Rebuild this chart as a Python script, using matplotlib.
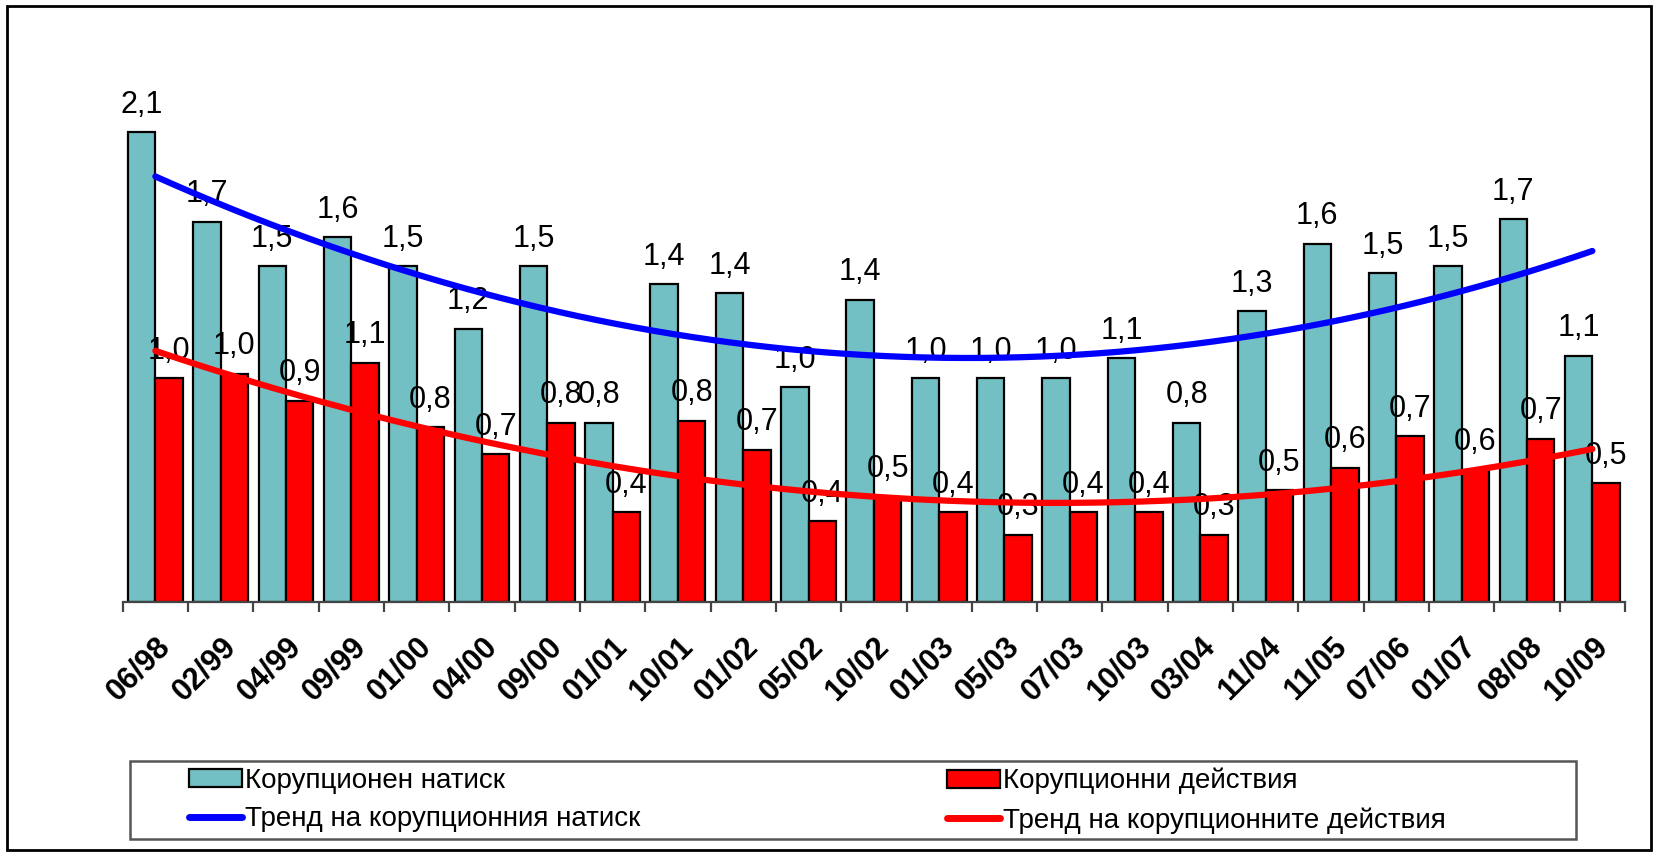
import numpy as np
import matplotlib.pyplot as plt
from matplotlib.patches import Rectangle
from matplotlib.lines import Line2D
from matplotlib.patches import Patch

plt.rcParams['font.family'] = ['Liberation Sans', 'DejaVu Sans']

# Data
periods = ['06/98', '02/99', '04/99', '09/99', '01/00', '04/00', '09/00', '01/01',
           '10/01', '01/02', '05/02', '10/02', '01/03', '05/03', '07/03', '10/03',
           '03/04', '11/04', '11/05', '07/06', '01/07', '08/08', '10/09']
pressure = [2.10, 1.70, 1.50, 1.63, 1.50, 1.22, 1.50, 0.80, 1.42, 1.38, 0.96, 1.35,
            1.00, 1.00, 1.00, 1.09, 0.80, 1.30, 1.60, 1.47, 1.50, 1.71, 1.10]
actions = [1.00, 1.02, 0.90, 1.07, 0.78, 0.66, 0.80, 0.40, 0.81, 0.68, 0.36, 0.47,
           0.40, 0.30, 0.40, 0.40, 0.30, 0.50, 0.60, 0.74, 0.59, 0.73, 0.53]

names = ['Корупционен натиск', 'Корупционни действия',
         'Тренд на корупционния натиск', 'Тренд на корупционните действия']

W, H = 1663, 857
fig = plt.figure(figsize=(W / 100, H / 100), dpi=100)


def px(x0, y0, x1, y1):
    # pixel box (top-left origin) -> figure fraction rect
    return [x0 / W, 1 - y1 / H, (x1 - x0) / W, (y1 - y0) / H]


ax = fig.add_axes(px(122.7, 42.5, 1625, 602))
x = np.arange(len(periods))
teal = '#72BFC4'
bw = 0.42

ax.bar(x - bw / 2, pressure, width=bw, color=teal, edgecolor='black', linewidth=1.6, zorder=2)
ax.bar(x + bw / 2, actions, width=bw, color='#FF0000', edgecolor='black', linewidth=1.6, zorder=2)

# polynomial trend lines (order 2), as in the source spreadsheet
xs = np.linspace(x[0], x[-1], 300)
cp = np.polyfit(x, pressure, 2)
ca = np.polyfit(x, actions, 2)
ax.plot(xs, np.polyval(cp, xs), color='#0000FF', lw=4.5, solid_capstyle='round', zorder=4)
ax.plot(xs, np.polyval(ca, xs), color='#FF0000', lw=4.5, solid_capstyle='round', zorder=4)

for xi, v in zip(x, pressure):
    ax.annotate(f'{v:.1f}'.replace('.', ','), (xi - bw / 2, v), xytext=(0, 9),
                textcoords='offset points', ha='center', va='bottom', fontsize=22, zorder=3)
for xi, v in zip(x, actions):
    ax.annotate(f'{v:.1f}'.replace('.', ','), (xi + bw / 2, v), xytext=(0, 9),
                textcoords='offset points', ha='center', va='bottom', fontsize=22, zorder=3)

ax.set_xlim(-0.5, len(periods) - 0.5)
ax.set_ylim(0, 2.5)
for s in ['left', 'top', 'right']:
    ax.spines[s].set_visible(False)
ax.spines['bottom'].set_color('#444444')
ax.spines['bottom'].set_linewidth(1.6)
ax.set_yticks([])
ax.set_xticks(x)
ax.set_xticklabels(periods, rotation=45, ha='right', va='top', rotation_mode='anchor',
                   fontsize=22, fontweight='bold')
ax.set_xticks(np.arange(len(periods) + 1) - 0.5, minor=True)
ax.tick_params(axis='x', which='major', length=0, pad=21)
ax.tick_params(axis='x', which='minor', length=7, width=1.6, color='#444444', direction='out')
ax.patch.set_alpha(0)

# outer border and legend frame
fig.patches.append(Rectangle((7 / W, 1 - 850 / H), (1651 - 7) / W, (850 - 6) / H,
                             transform=fig.transFigure, fill=False, lw=2, ec='black'))
fig.patches.append(Rectangle((130 / W, 1 - 838.5 / H), (1576 - 130) / W, (838.5 - 760.5) / H,
                             transform=fig.transFigure, fill=False, lw=1.8, ec='#555555'))

h_teal = Patch(facecolor=teal, edgecolor='black', linewidth=1.6)
h_red = Patch(facecolor='#FF0000', edgecolor='black', linewidth=1.6)
h_blue = Line2D([], [], color='#0000FF', lw=5, solid_capstyle='round')
h_redl = Line2D([], [], color='#FF0000', lw=5, solid_capstyle='round')

leg_kw = dict(loc='upper left', frameon=False, fontsize=20, borderpad=0, borderaxespad=0,
              handlelength=1.9, handleheight=0.6, handletextpad=0.12, labelspacing=0.45)
fig.legend([h_teal, h_blue], [names[0], names[2]],
           bbox_to_anchor=(189 / W, 1 - 768 / H), **leg_kw)
fig.legend([h_red, h_redl], [names[1], names[3]],
           bbox_to_anchor=(947 / W, 1 - 768 / H), **leg_kw)

fig.savefig('out.png', dpi=100)
